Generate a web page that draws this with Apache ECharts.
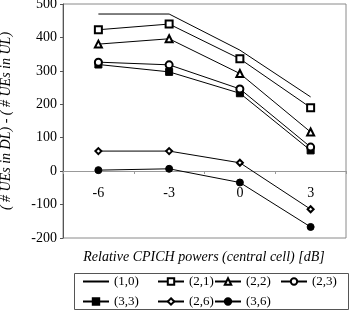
<!DOCTYPE html>
<html>
<head>
<meta charset="utf-8">
<script src="https://cdn.jsdelivr.net/npm/echarts@6/dist/echarts.min.js"></script>
<style>
  html, body { margin: 0; padding: 0; background: #fff; }
  #chart { width: 350px; height: 311px; }
</style>
</head>
<body>
<div id="chart"></div>
<script>
// x categories (relative CPICH power, dB)
const categories = ['-6', '-3', '0', '3']

// series values
const s10 = [470, 470, 362, 222]
const s21 = [423, 440, 336, 190]
const s22 = [380, 396, 292, 117]
const s23 = [326, 318, 246, 72]
const s33 = [319, 297, 233, 62]
const s26 = [60, 60, 25, -114]
const s36 = [3, 7, -34, -167]

const seriesNames = ['(1,0)', '(2,1)', '(2,2)', '(2,3)', '(3,3)', '(2,6)', '(3,6)']
const seriesData = [s10, s21, s22, s23, s33, s26, s36]
const seriesSymbols = ['none', 'emptyRect', 'emptyTriangle', 'emptyCircle', 'rect', 'emptyDiamond', 'circle']
const symbolSizes = [0, 7, 7, 7, 7, 6, 7]

const font = '"Liberation Serif", "DejaVu Serif", serif'

// legend columns, laid out as in the figure
const legendCols = [
  { left: 82, data: [{ name: '(1,0)', itemStyle: { opacity: 0 } }, '(3,3)'] },
  { left: 157, data: ['(2,1)', '(2,6)'] },
  { left: 214, data: ['(2,2)', '(3,6)'] },
  { left: 280, data: ['(2,3)'] }
]

const chart = echarts.init(document.getElementById('chart'))

const option = {
  animation: false,
  backgroundColor: '#fff',
  title: {
    text: 'Relative CPICH powers (central cell) [dB]',
    left: 204,
    top: 250,
    textAlign: 'center',
    padding: 0,
    textStyle: { fontFamily: font, fontSize: 14, fontStyle: 'italic', fontWeight: 'normal', color: '#000' }
  },
  grid: {
    left: 63,
    right: 4,
    top: 4,
    bottom: 73,
    containLabel: false,
    outerBoundsMode: 'none',
    show: true,
    borderColor: '#8a8a8a',
    borderWidth: 1
  },
  legend: legendCols.map(c => ({
    orient: 'vertical',
    left: c.left,
    top: 274,
    height: 40,
    padding: 0,
    itemWidth: 26,
    itemHeight: 8,
    itemGap: 5,
    textStyle: { fontFamily: font, fontSize: 13, lineHeight: 15, color: '#000' },
    data: c.data
  })),
  graphic: [
    {
      type: 'rect',
      shape: { x: 74.5, y: 273.5, width: 274, height: 36 },
      style: { fill: 'none', stroke: '#555', lineWidth: 1 },
      silent: true
    }
  ],
  xAxis: {
    type: 'category',
    data: categories,
    boundaryGap: true,
    position: 'bottom',
    offset: -67,
    axisLine: { onZero: false, lineStyle: { color: '#999', width: 1 } },
    axisTick: { show: true, length: 3, lineStyle: { color: '#999' } },
    axisLabel: { margin: 15, fontFamily: font, fontSize: 14, color: '#000' },
    splitLine: { show: false }
  },
  yAxis: {
    type: 'value',
    min: -200,
    max: 500,
    interval: 100,
    name: '( # UEs in DL) - ( # UEs in UL)',
    nameLocation: 'middle',
    nameGap: 50,
    nameTextStyle: { fontFamily: font, fontSize: 14, fontStyle: 'italic', color: '#000' },
    axisLine: { show: true, lineStyle: { color: '#555', width: 1 } },
    axisTick: { show: true, length: 3, lineStyle: { color: '#555' } },
    axisLabel: { margin: 6, fontFamily: font, fontSize: 14, color: '#000' },
    splitLine: { show: false }
  },
  series: seriesNames.map((name, i) => ({
    name: name,
    type: 'line',
    data: seriesData[i],
    symbol: seriesSymbols[i],
    symbolSize: symbolSizes[i],
    showSymbol: seriesSymbols[i] !== 'none',
    lineStyle: { color: '#000', width: 1 },
    itemStyle: { color: '#000', borderColor: '#000', borderWidth: 1 },
    z: 10 - i
  }))
}

chart.setOption(option)
</script>
</body>
</html>
